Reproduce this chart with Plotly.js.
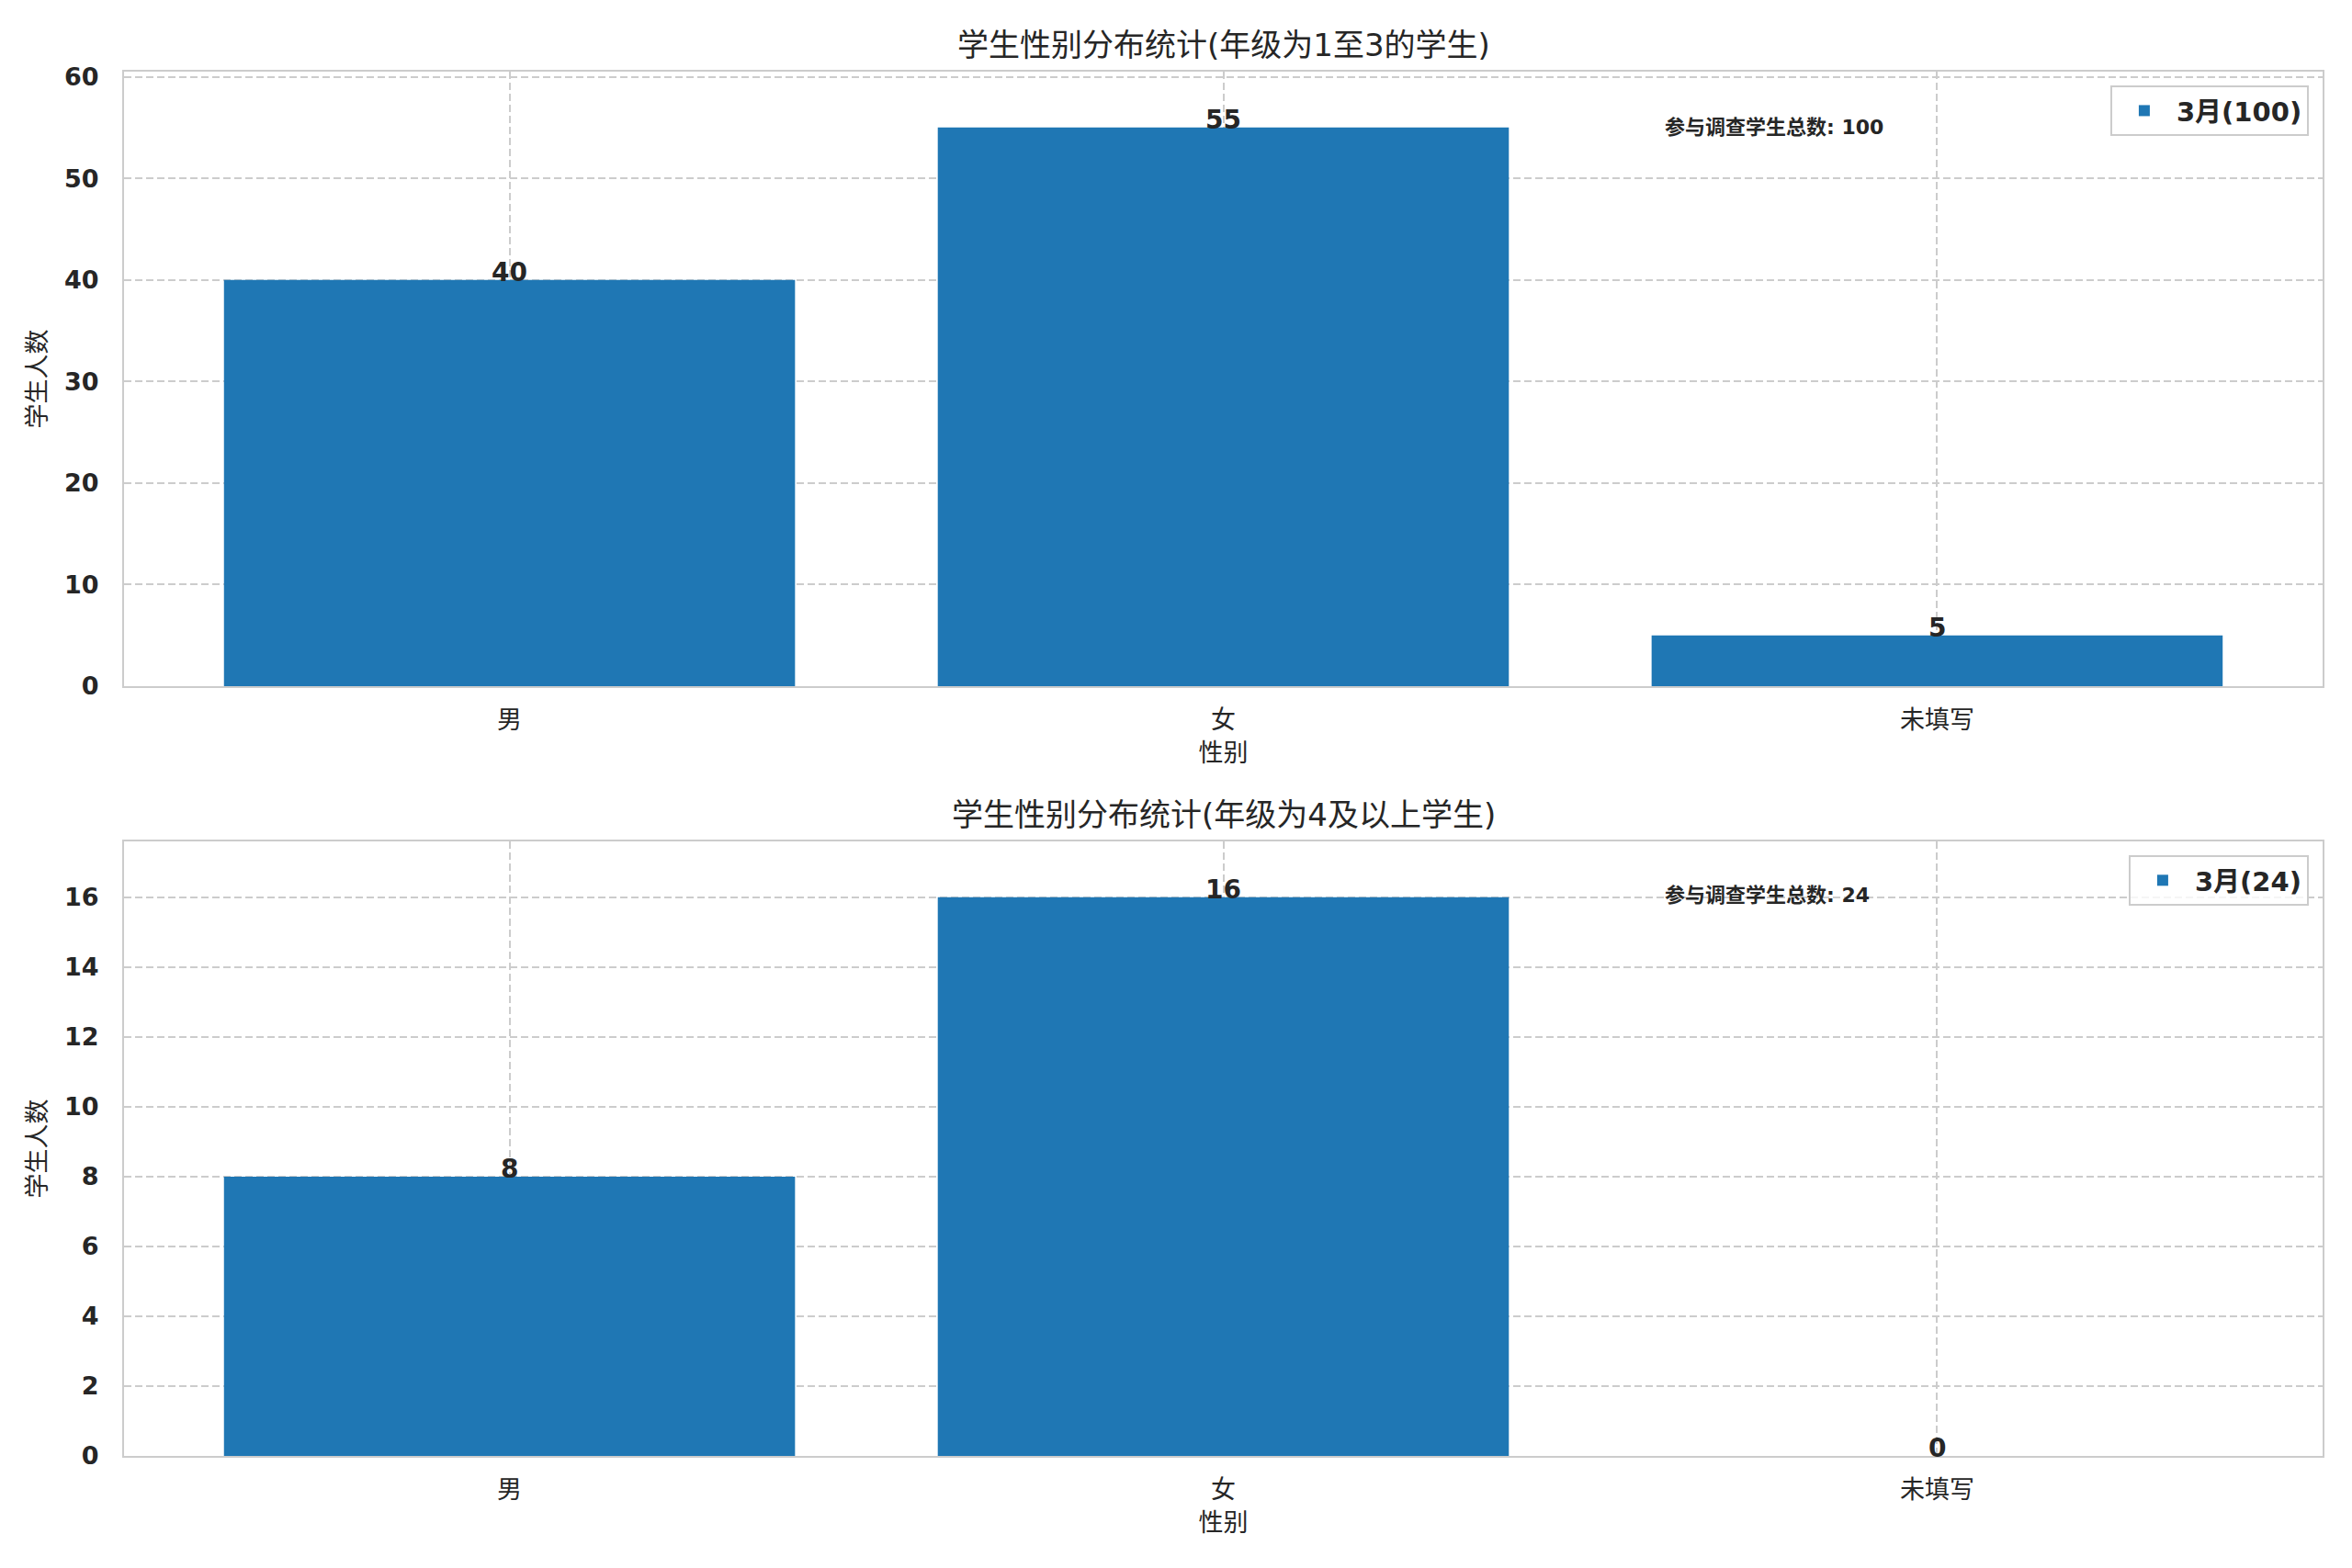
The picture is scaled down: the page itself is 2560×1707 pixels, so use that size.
<!DOCTYPE html>
<html>
<head>
<meta charset="utf-8">
<script src="https://cdn.plot.ly/plotly-3.0.1.min.js"></script>
<style>html,body{margin:0;padding:0;background:#fff;}</style>
</head>
<body>
<div id="chart" style="width:2560px;height:1707px;"></div>
<script>
const categories = ["男", "女", "未填写"];
const valuesLower = [40, 55, 5];
const valuesUpper = [8, 16, 0];
const titleLower = "学生性别分布统计(年级为1至3的学生)";
const titleUpper = "学生性别分布统计(年级为4及以上学生)";
const seriesLabel = "3月";
const totalLabel = "参与调查学生总数";
const xTitle = "性别";
const yTitle = "学生人数";

const FONT = "DejaVu Sans, 'Noto Sans CJK SC', sans-serif";
const TXT = "#262626";
const GRID = "#cccccc";
const BAR = "#1f77b4";

const sum = a => a.reduce((s, v) => s + v, 0);
const totLower = sum(valuesLower);
const totUpper = sum(valuesUpper);

const traces = [
  {type: "bar", x: categories, y: valuesLower, xaxis: "x", yaxis: "y",
   name: seriesLabel + "(" + totLower + ")", legend: "legend",
   marker: {color: BAR, line: {width: 0}}, width: 0.8, hoverinfo: "none"},
  {type: "bar", x: categories, y: valuesUpper, xaxis: "x2", yaxis: "y2",
   name: seriesLabel + "(" + totUpper + ")", legend: "legend2",
   marker: {color: BAR, line: {width: 0}}, width: 0.8, hoverinfo: "none"}
];

function xaxis(anchor) {
  return {
    anchor: anchor, domain: [0, 1], range: [-0.54, 2.54], type: "category",
    showline: true, linecolor: GRID, linewidth: 2, mirror: true,
    showgrid: true, gridcolor: GRID, gridwidth: 2, griddash: "8px,4px",
    ticks: "", ticklabelstandoff: 12, zeroline: false,
    tickfont: {family: FONT, size: 27, color: TXT},
    title: {text: xTitle, standoff: 12, font: {family: FONT, size: 27, color: TXT}}
  };
}
function yaxis(anchor, domain, maxv, dtick) {
  return {
    anchor: anchor, domain: domain, range: [0, maxv * 1.1], dtick: dtick, tick0: 0,
    showline: true, linecolor: GRID, linewidth: 2, mirror: true,
    showgrid: true, gridcolor: GRID, gridwidth: 2, griddash: "8px,4px",
    ticks: "", ticklabelstandoff: 20, zeroline: false,
    tickfont: {family: FONT, size: 27, color: TXT, weight: "bold"},
    title: {text: yTitle, standoff: 12, font: {family: FONT, size: 27, color: TXT}}
  };
}

const annotations = [];
function barLabels(vals, xr, yr) {
  vals.forEach((v, i) => {
    annotations.push({x: categories[i], y: v, xref: xr, yref: yr, text: String(v),
      showarrow: false, xanchor: "center", yanchor: "bottom", yshift: -10,
      font: {family: FONT, size: 28, color: TXT, weight: "bold"}});
  });
}
barLabels(valuesLower, "x", "y");
barLabels(valuesUpper, "x2", "y2");

annotations.push({x: 0.5, y: 1.0192, xref: "paper", yref: "paper", text: titleLower,
  showarrow: false, xanchor: "center", yanchor: "middle",
  font: {family: FONT, size: 34, color: TXT}});
annotations.push({x: 0.5, y: 0.4632, xref: "paper", yref: "paper", text: titleUpper,
  showarrow: false, xanchor: "center", yanchor: "middle",
  font: {family: FONT, size: 34, color: TXT}});

annotations.push({x: 0.7, y: 0.91, xref: "x domain", yref: "y domain",
  text: totalLabel + ": " + totLower, showarrow: false, xanchor: "left", yanchor: "middle",
  font: {family: FONT, size: 22, color: TXT, weight: "bold"}});
annotations.push({x: 0.7, y: 0.912, xref: "x2 domain", yref: "y2 domain",
  text: totalLabel + ": " + totUpper, showarrow: false, xanchor: "left", yanchor: "middle",
  font: {family: FONT, size: 22, color: TXT, weight: "bold"}});

const legendBase = {
  xref: "paper", yref: "paper", xanchor: "right", yanchor: "top",
  bgcolor: "rgba(255,255,255,0.8)", bordercolor: GRID, borderwidth: 2,
  itemwidth: 60,
  font: {family: FONT, size: 29, color: TXT, weight: "bold"}
};

const layout = {
  width: 2560, height: 1707,
  paper_bgcolor: "#fff", plot_bgcolor: "#fff",
  margin: {l: 135, r: 32, t: 78, b: 122},
  showlegend: true, bargap: 0.2,
  xaxis: xaxis("y"),
  yaxis: yaxis("x", [0.5561, 1], Math.max(...valuesLower), 10),
  xaxis2: xaxis("y2"),
  yaxis2: yaxis("x2", [0, 0.4439], Math.max(...valuesUpper), 2),
  legend: Object.assign({x: 0.9937, y: 0.990}, legendBase),
  legend2: Object.assign({x: 0.9937, y: 0.434}, legendBase),
  annotations: annotations
};

Plotly.newPlot("chart", traces, layout, {staticPlot: true});
</script>
</body>
</html>
